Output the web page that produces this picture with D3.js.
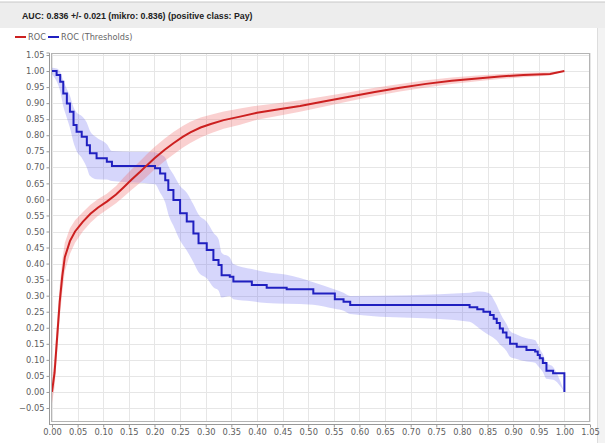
<!DOCTYPE html>
<html>
<head>
<meta charset="utf-8">
<script src="https://cdn.jsdelivr.net/npm/d3@7"></script>
<style>
  html, body { margin: 0; padding: 0; background: #ffffff; }
  svg { display: block; }
</style>
</head>
<body>
<svg id="chart" width="605" height="443"></svg>
<script>
// ROC curve (false positive rate -> true positive rate), averaged over folds
const rocFpr = [0, 0.005, 0.01, 0.015, 0.02, 0.025, 0.035, 0.045, 0.06, 0.075, 0.09, 0.107, 0.125, 0.14, 0.155, 0.172, 0.185, 0.2, 0.22, 0.237, 0.255, 0.27, 0.29, 0.31, 0.335, 0.367, 0.4, 0.44, 0.484, 0.53, 0.58, 0.63, 0.679, 0.73, 0.78, 0.83, 0.874, 0.92, 0.972, 1.0];
const rocTpr = [0, 0.06, 0.17, 0.28, 0.36, 0.42, 0.47, 0.5, 0.53, 0.555, 0.575, 0.593, 0.615, 0.638, 0.661, 0.686, 0.706, 0.728, 0.755, 0.775, 0.795, 0.809, 0.824, 0.835, 0.847, 0.858, 0.87, 0.88, 0.891, 0.905, 0.92, 0.935, 0.948, 0.96, 0.97, 0.977, 0.983, 0.988, 0.991, 1.0];
const rocStd = [0.035, 0.045, 0.05, 0.05, 0.05, 0.045, 0.04, 0.035, 0.03, 0.028, 0.026, 0.025, 0.027, 0.03, 0.032, 0.034, 0.035, 0.035, 0.035, 0.035, 0.034, 0.033, 0.031, 0.029, 0.027, 0.025, 0.022, 0.02, 0.018, 0.016, 0.014, 0.013, 0.012, 0.011, 0.01, 0.009, 0.008, 0.007, 0.005, 0];

// Threshold curve (step values), averaged over folds
const thrFpr = [0, 0.009, 0.016, 0.022, 0.029, 0.035, 0.042, 0.048, 0.058, 0.068, 0.074, 0.087, 0.107, 0.117, 0.201, 0.211, 0.221, 0.227, 0.237, 0.25, 0.263, 0.276, 0.286, 0.302, 0.315, 0.325, 0.331, 0.347, 0.354, 0.39, 0.419, 0.458, 0.51, 0.552, 0.569, 0.582, 0.815, 0.83, 0.842, 0.855, 0.862, 0.868, 0.874, 0.88, 0.887, 0.894, 0.907, 0.926, 0.943, 0.948, 0.952, 0.958, 0.965, 0.978, 1.0];
const thrVal = [1.0, 0.988, 0.967, 0.93, 0.899, 0.873, 0.832, 0.811, 0.795, 0.769, 0.744, 0.728, 0.717, 0.704, 0.697, 0.681, 0.66, 0.629, 0.598, 0.557, 0.531, 0.494, 0.463, 0.442, 0.411, 0.396, 0.364, 0.359, 0.344, 0.333, 0.325, 0.32, 0.307, 0.289, 0.281, 0.271, 0.264, 0.258, 0.25, 0.24, 0.228, 0.215, 0.198, 0.185, 0.17, 0.15, 0.141, 0.131, 0.126, 0.115, 0.105, 0.09, 0.066, 0.058, 0.0];
const thrStd = [0.01, 0.02, 0.03, 0.04, 0.045, 0.05, 0.055, 0.06, 0.065, 0.07, 0.07, 0.065, 0.055, 0.047, 0.05, 0.06, 0.07, 0.075, 0.08, 0.085, 0.09, 0.09, 0.09, 0.088, 0.085, 0.08, 0.07, 0.06, 0.055, 0.05, 0.048, 0.045, 0.035, 0.03, 0.028, 0.028, 0.045, 0.055, 0.062, 0.065, 0.06, 0.055, 0.05, 0.045, 0.042, 0.04, 0.038, 0.036, 0.035, 0.033, 0.03, 0.028, 0.025, 0.02, 0];

const xTicks = d3.range(0, 22).map(i => +(i * 0.05).toFixed(2));
const yTicks = d3.range(-1, 22).map(i => +(i * 0.05).toFixed(2));

const titleText = "AUC: 0.836 +/- 0.021 (mikro: 0.836) (positive class: Pay)";
const seriesNames = ["ROC", "ROC (Thresholds)"];
const seriesColors = ["#cc2020", "#2020c0"];

const svg = d3.select("#chart");
const W = 605, H = 443;

// header band
svg.append("rect").attr("x", 0).attr("y", 0).attr("width", W).attr("height", H).attr("fill", "#ffffff");
svg.append("rect").attr("x", 0).attr("y", 2).attr("width", W).attr("height", 26).attr("fill", "#ededed");
svg.append("line").attr("x1", 0).attr("x2", W).attr("y1", 2).attr("y2", 2).attr("stroke", "#c8c8c8");
svg.append("rect").attr("x", 597).attr("y", 28).attr("width", 8).attr("height", H - 28).attr("fill", "#f3f3f3");
svg.append("line").attr("x1", 597.5).attr("x2", 597.5).attr("y1", 28).attr("y2", H).attr("stroke", "#dddddd");

svg.append("text")
  .attr("x", 22).attr("y", 19)
  .attr("font-family", "Liberation Sans, Arial, sans-serif")
  .attr("font-weight", "bold")
  .attr("font-size", 8.8)
  .attr("fill", "#222")
  .text(titleText);

// legend
const legend = svg.append("g").attr("font-family", "DejaVu Sans, sans-serif").attr("font-size", 8.2).attr("fill", "#666");
const legendX = [15, 48];
seriesNames.forEach((name, i) => {
  legend.append("line").attr("x1", legendX[i]).attr("x2", legendX[i] + 11).attr("y1", 37).attr("y2", 37)
    .attr("stroke", seriesColors[i]).attr("stroke-width", 2);
  legend.append("text").attr("x", legendX[i] + 13).attr("y", 40).text(name);
});

// scales
const x = d3.scaleLinear().domain([0, 1.05]).range([52, 590]);
const y = d3.scaleLinear().domain([-0.05, 1.05]).range([408, 55]);

const plotL = 51, plotR = 590, plotT = 53, plotB = 422;

// grid
const grid = svg.append("g").attr("stroke", "#e6e6e6").attr("stroke-width", 1);
xTicks.forEach(t => {
  grid.append("line").attr("x1", Math.round(x(t)) + 0.5).attr("x2", Math.round(x(t)) + 0.5)
    .attr("y1", plotT).attr("y2", plotB);
});
yTicks.forEach(t => {
  grid.append("line").attr("y1", Math.round(y(t)) + 0.5).attr("y2", Math.round(y(t)) + 0.5)
    .attr("x1", plotL).attr("x2", plotR);
});

const plot = svg.append("g");
plot.append("clipPath").attr("id", "clip").append("rect")
  .attr("x", plotL).attr("y", plotT).attr("width", plotR - plotL).attr("height", plotB - plotT);
const inner = plot.append("g").attr("clip-path", "url(#clip)");

// bands: mean +/- standard deviation
const rocData = rocFpr.map((f, i) => ({ x: f, y: rocTpr[i], s: rocStd[i] }));
const thrData = thrFpr.map((f, i) => ({ x: f, y: thrVal[i], s: thrStd[i] }));

inner.append("path")
  .datum(thrData)
  .attr("fill", "rgba(90,90,240,0.25)")
  .attr("d", d3.area().curve(d3.curveMonotoneX).x(d => x(d.x)).y0(d => y(d.y - d.s)).y1(d => y(d.y + d.s)));

inner.append("path")
  .datum(rocData)
  .attr("fill", "rgba(240,110,110,0.32)")
  .attr("d", d3.area().x(d => x(d.x)).y0(d => y(d.y - d.s)).y1(d => y(d.y + d.s)));

// lines
inner.append("path")
  .datum(thrData)
  .attr("fill", "none").attr("stroke", seriesColors[1]).attr("stroke-width", 2)
  .attr("d", d3.line().curve(d3.curveStepAfter).x(d => x(d.x)).y(d => y(d.y)));

inner.append("path")
  .datum(rocData)
  .attr("fill", "none").attr("stroke", seriesColors[0]).attr("stroke-width", 2)
  .attr("d", d3.line().x(d => x(d.x)).y(d => y(d.y)));

// plot border
svg.append("rect").attr("x", plotL + 0.5).attr("y", plotT + 0.5)
  .attr("width", plotR - plotL - 1).attr("height", plotB - plotT - 1)
  .attr("fill", "none").attr("stroke", "#b4b4b4");

// axes
const axisColor = "#999";
const yAxis = svg.append("g").attr("transform", "translate(49.5,0)")
  .call(d3.axisLeft(y).tickValues(yTicks).tickSize(3).tickPadding(2).tickFormat(d3.format(".2f")));
const xAxis = svg.append("g").attr("transform", "translate(0,424.5)")
  .call(d3.axisBottom(x).tickValues(xTicks).tickSize(3).tickPadding(2).tickFormat(d3.format(".2f")));
[yAxis, xAxis].forEach(a => {
  a.select(".domain").attr("stroke", axisColor);
  a.selectAll(".tick line").attr("stroke", axisColor);
  a.selectAll(".tick text").attr("fill", "#606060")
    .attr("font-family", "DejaVu Sans, sans-serif").attr("font-size", 8.3);
});
yAxis.select(".domain").attr("d", `M-3,${plotT}H0V${plotB + 2}`);
xAxis.select(".domain").attr("d", `M${plotL - 2},0H${plotR}`);
</script>
</body>
</html>
